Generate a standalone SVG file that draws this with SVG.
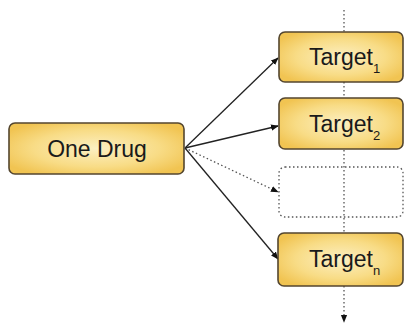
<svg xmlns="http://www.w3.org/2000/svg" width="405" height="328" viewBox="0 0 405 328">
<defs>
<radialGradient id="g" cx="0.5" cy="0.5" r="0.6">
<stop offset="0" stop-color="#fcefc2"/>
<stop offset="0.6" stop-color="#f8dc86"/>
<stop offset="1" stop-color="#f1c452"/>
</radialGradient>
<marker id="a" viewBox="0 0 10 10" refX="9" refY="5" markerWidth="6" markerHeight="6" orient="auto">
<path d="M0,1 L10,5 L0,9 z" fill="#111"/>
</marker>
<style>
.box{fill:url(#g);stroke:#54462f;stroke-width:1.6}
.t{font-family:"Liberation Sans",Arial,sans-serif;font-size:23px;fill:#1a1a1a}
.s{font-size:13px}
.c{stroke:#222;stroke-width:1.3;fill:none}
.d{stroke:#555;stroke-width:1.3;fill:none;stroke-dasharray:1.5 2.5}
</style>
</defs>
<g id="axis">
<line class="d" x1="344" y1="10" x2="344" y2="322" marker-end="url(#a)"/>
</g>
<g id="connectors">
<line class="c" x1="185" y1="148" x2="278" y2="58" marker-end="url(#a)"/>
<line class="c" x1="185" y1="148" x2="278" y2="126" marker-end="url(#a)"/>
<line class="d" x1="185" y1="148" x2="278" y2="192" marker-end="url(#a)"/>
<line class="c" x1="185" y1="148" x2="278" y2="259" marker-end="url(#a)"/>
</g>
<g id="drug">
<rect class="box" x="9" y="123" width="175" height="51" rx="6"/>
<text class="t" x="97" y="157" text-anchor="middle">One Drug</text>
</g>
<g id="target1">
<rect class="box" x="279" y="32" width="124" height="50" rx="6"/>
<text class="t" x="309" y="65">Target<tspan class="s" dy="8">1</tspan></text>
</g>
<g id="target2">
<rect class="box" x="279" y="98" width="124" height="51" rx="6"/>
<text class="t" x="309" y="132">Target<tspan class="s" dy="8">2</tspan></text>
</g>
<g id="placeholder">
<rect class="d" x="279" y="167" width="124" height="50" rx="6"/>
</g>
<g id="targetn">
<rect class="box" x="278" y="233" width="125" height="53" rx="6"/>
<text class="t" x="309" y="267">Target<tspan class="s" dy="8">n</tspan></text>
</g>
</svg>
